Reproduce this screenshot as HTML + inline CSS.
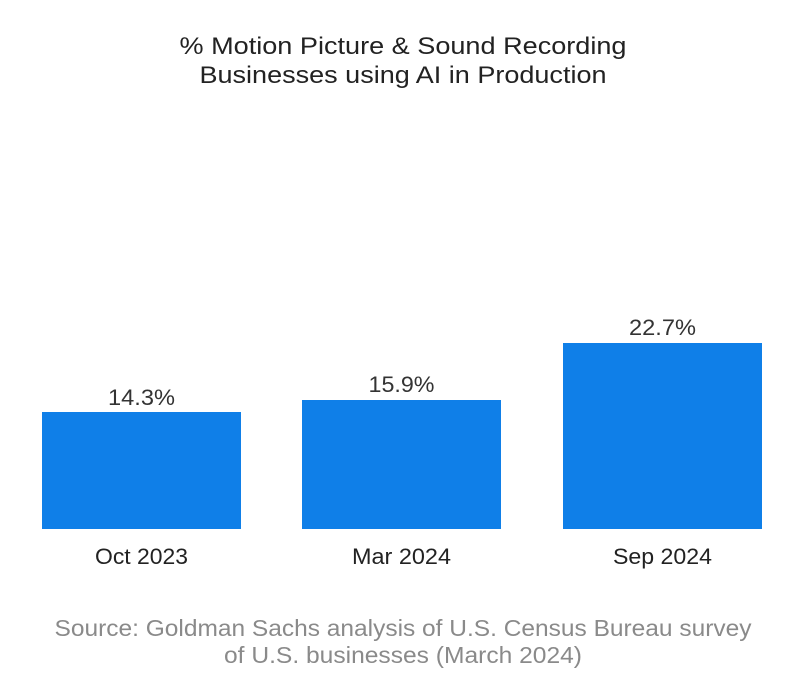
<!DOCTYPE html>
<html><head><meta charset="utf-8"><style>
body{margin:0;background:#fff;}
svg{display:block;font-family:"Liberation Sans",Arial,sans-serif;}
</style></head><body>
<svg width="806" height="691" viewBox="0 0 806 691">
<rect width="806" height="691" fill="#fff"/>
<g font-size="24" text-anchor="middle" fill="#222" lengthAdjust="spacingAndGlyphs">
<text x="403" y="54" textLength="447" lengthAdjust="spacingAndGlyphs">% Motion Picture &amp; Sound Recording</text>
<text x="403" y="83" textLength="407" lengthAdjust="spacingAndGlyphs">Businesses using AI in Production</text>
</g>
<rect x="42" y="412" width="199" height="117" fill="#0F7FE8"/>
<rect x="302" y="400" width="199" height="129" fill="#0F7FE8"/>
<rect x="563" y="343" width="199" height="186" fill="#0F7FE8"/>
<g font-size="22" text-anchor="middle" fill="#333">
<text x="141.5" y="405" textLength="67" lengthAdjust="spacingAndGlyphs">14.3%</text>
<text x="401.5" y="392" textLength="66" lengthAdjust="spacingAndGlyphs">15.9%</text>
<text x="662.5" y="335" textLength="67" lengthAdjust="spacingAndGlyphs">22.7%</text>
<text x="141.5" y="564" fill="#222" textLength="93" lengthAdjust="spacingAndGlyphs">Oct 2023</text>
<text x="401.5" y="564" fill="#222" textLength="99" lengthAdjust="spacingAndGlyphs">Mar 2024</text>
<text x="662.5" y="564" fill="#222" textLength="99" lengthAdjust="spacingAndGlyphs">Sep 2024</text>
</g>
<text x="403" y="636" font-size="23" text-anchor="middle" fill="#8a8a8a" textLength="697" lengthAdjust="spacingAndGlyphs">Source: Goldman Sachs analysis of U.S. Census Bureau survey</text>
<text x="403" y="663" font-size="23" text-anchor="middle" fill="#8a8a8a" textLength="358" lengthAdjust="spacingAndGlyphs">of U.S. businesses (March 2024)</text>
</svg>
</body></html>
